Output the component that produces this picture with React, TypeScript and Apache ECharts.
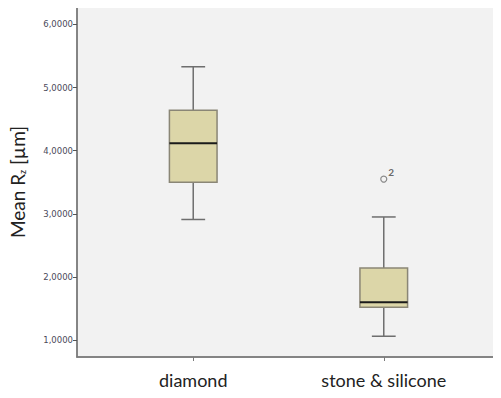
import React, { useEffect, useRef } from "react";
import * as echarts from "echarts";

const categories = ["diamond", "stone & silicone"];
const categoryPositions = [1, 2];
// [min, Q1, median, Q3, max]
const boxValues = [
  [2.91, 3.5, 4.12, 4.64, 5.33],
  [1.06, 1.52, 1.6, 2.14, 2.95],
];
const outlierPositions = [2];
const outlierValues = [3.55];
const outlierLabels = ["2"];
const yTicks = [1, 2, 3, 4, 5, 6];

export default function App() {
  const ref = useRef<HTMLDivElement>(null);
  useEffect(() => {
    if (!ref.current) return;
    const chart = echarts.init(ref.current, undefined, { renderer: "svg" });
    const boxData = boxValues.map((b, i) => [categoryPositions[i], ...b]);
    const outData = outlierValues.map((v, i) => ({
      value: [outlierPositions[i], v],
      label: { formatter: outlierLabels[i] },
    }));
    chart.setOption({
      animation: false,
      textStyle: { fontFamily: "Lato" },
      grid: {
        left: 74,
        right: 1,
        top: 7,
        bottom: 41,
        show: true,
        backgroundColor: "#F2F2F2",
        borderColor: "#8a8a8a",
        borderWidth: 1.5,
      },
      xAxis: {
        type: "value",
        min: 0.39,
        max: 2.61,
        splitLine: { show: false },
        axisLine: { show: true, lineStyle: { color: "#7a7a7a", width: 1.5 } },
        axisTick: { show: true, length: 4, customValues: categoryPositions, lineStyle: { color: "#7a7a7a" } },
        axisLabel: {
          customValues: categoryPositions,
          formatter: (v: number) => categories[categoryPositions.indexOf(Math.round(v))] ?? "",
          color: "#222",
          fontSize: 18,
          margin: 14,
          fontFamily: "Lato",
        },
      },
      yAxis: {
        type: "value",
        min: 0.731,
        max: 6.277,
        name: "Mean R{sub|z} [µm]",
        nameLocation: "middle",
        nameGap: 50,
        nameRotate: 90,
        nameTextStyle: {
          fontSize: 19,
          color: "#222",
          fontFamily: "Lato",
          rich: {
            sub: { fontSize: 9, color: "#222", verticalAlign: "bottom", padding: [8, 0, 0, 0], fontFamily: "Lato" },
          },
        },
        splitLine: { show: false },
        axisLine: { show: true, lineStyle: { color: "#7a7a7a", width: 1.5 } },
        axisTick: { show: true, length: 4, customValues: yTicks, lineStyle: { color: "#555" } },
        axisLabel: {
          customValues: yTicks,
          formatter: (v: number) => v.toFixed(4).replace(".", ","),
          color: "#4a4a5a",
          fontSize: 8.5,
          margin: 4,
          fontFamily: "DejaVu Sans",
        },
      },
      series: [
        {
          type: "custom",
          data: boxData,
          renderItem: (params: any, api: any) => {
            const x = api.value(0);
            const mn = api.coord([x, api.value(1)]);
            const q1 = api.coord([x, api.value(2)]);
            const md = api.coord([x, api.value(3)]);
            const q3 = api.coord([x, api.value(4)]);
            const mx = api.coord([x, api.value(5)]);
            const bw = api.size([0.25, 0])[0];
            const cw = bw / 2;
            const cx = mn[0];
            const wStyle = { stroke: "#6e6e6e", lineWidth: 1.5 };
            return {
              type: "group",
              children: [
                { type: "line", shape: { x1: cx, y1: mx[1], x2: cx, y2: q3[1] }, style: wStyle },
                { type: "line", shape: { x1: cx, y1: q1[1], x2: cx, y2: mn[1] }, style: wStyle },
                { type: "line", shape: { x1: cx - cw / 2, y1: mx[1], x2: cx + cw / 2, y2: mx[1] }, style: wStyle },
                { type: "line", shape: { x1: cx - cw / 2, y1: mn[1], x2: cx + cw / 2, y2: mn[1] }, style: wStyle },
                {
                  type: "rect",
                  shape: { x: cx - bw / 2, y: q3[1], width: bw, height: q1[1] - q3[1] },
                  style: { fill: "#DCD6A8", stroke: "#8a8676", lineWidth: 1.5 },
                },
                {
                  type: "line",
                  shape: { x1: cx - bw / 2, y1: md[1], x2: cx + bw / 2, y2: md[1] },
                  style: { stroke: "#1a1a1a", lineWidth: 2 },
                },
              ],
            };
          },
        },
        {
          type: "scatter",
          data: outData,
          symbol: "circle",
          symbolSize: 6,
          itemStyle: { color: "#F2F2F2", borderColor: "#6e6e6e", borderWidth: 1.2 },
          label: {
            show: true,
            position: [8, -8],
            fontSize: 10,
            fontWeight: "bold",
            color: "#444",
            fontFamily: "Lato",
          },
        },
      ],
    });
    return () => chart.dispose();
  }, []);
  return <div ref={ref} style={{ width: 501, height: 398, margin: -8 }} />;
}
